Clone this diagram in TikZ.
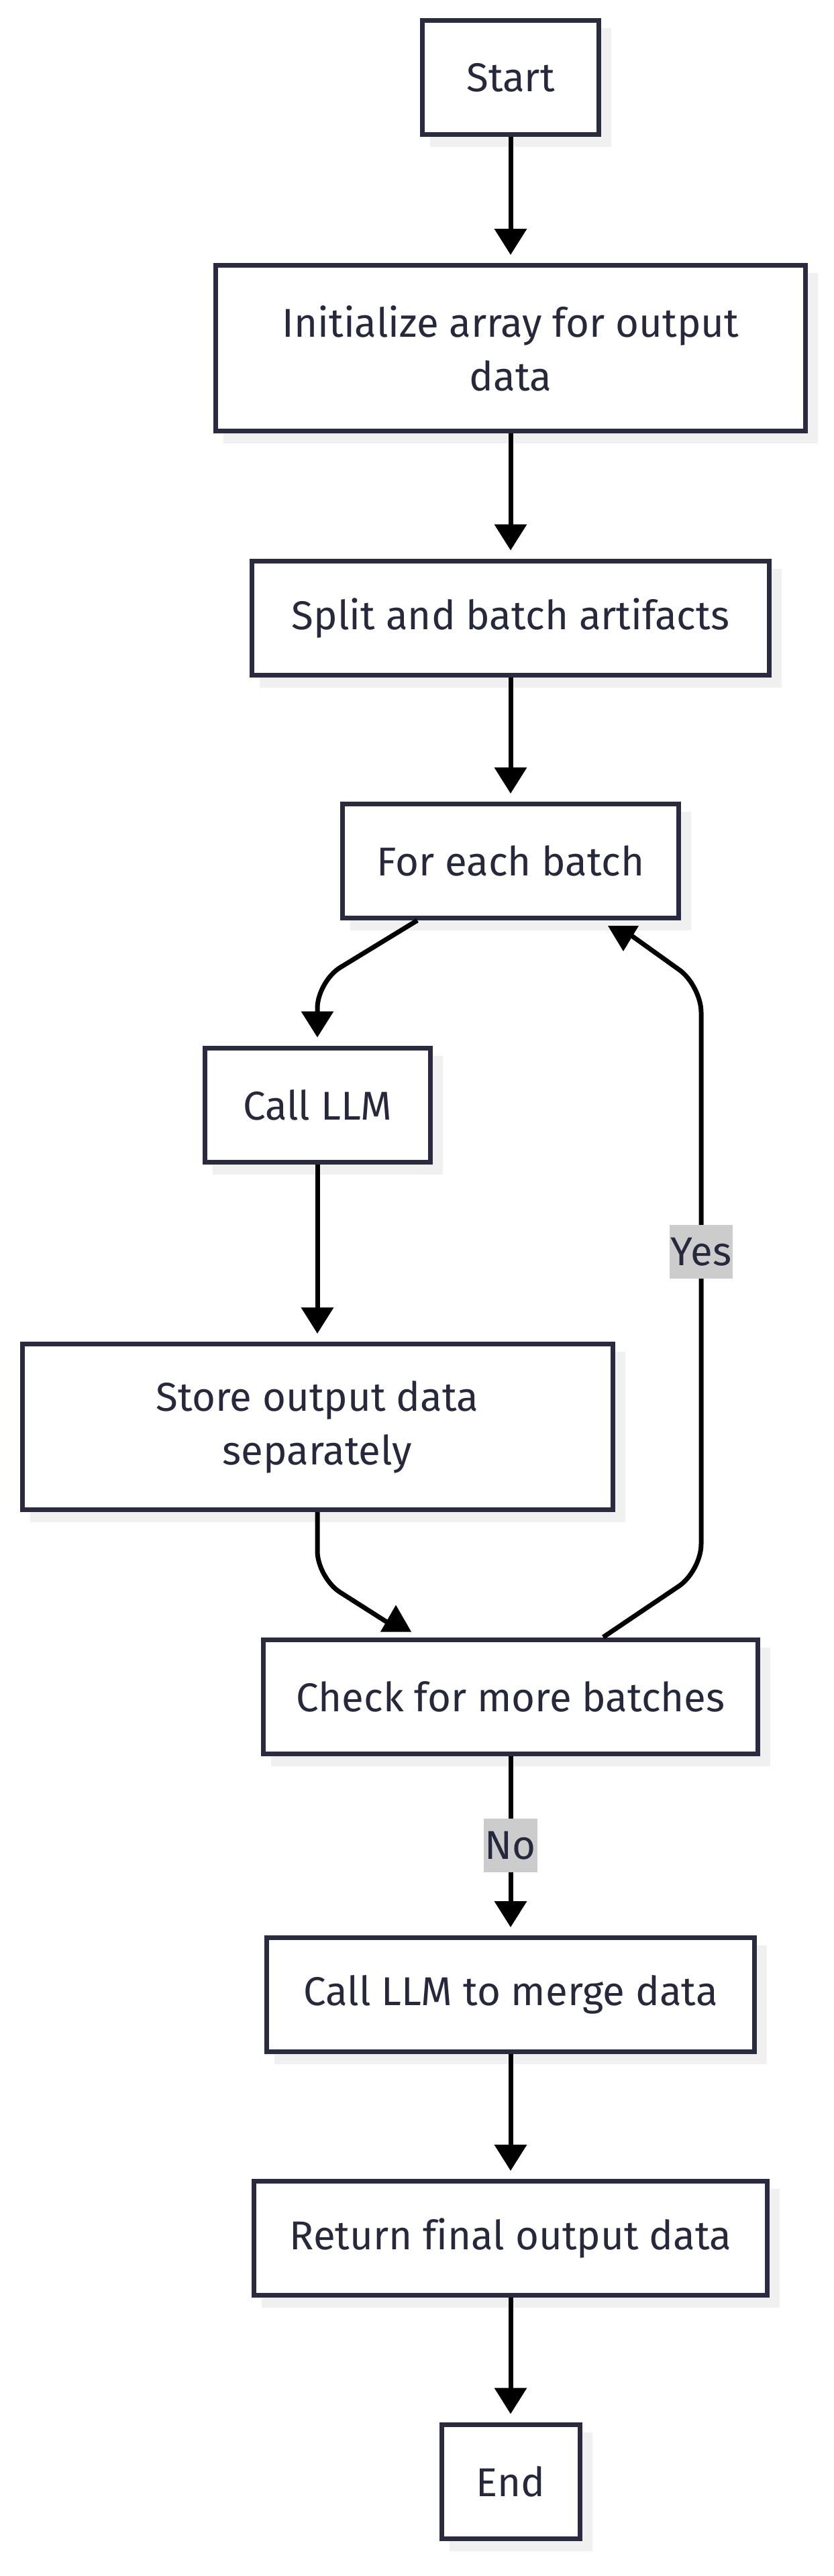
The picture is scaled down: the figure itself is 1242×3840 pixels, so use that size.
\documentclass[tikz,border=0pt]{standalone}
\usepackage{fontspec}
\setmainfont[Ligatures=NoCommon]{Fira Sans}
\usetikzlibrary{arrows.meta,calc,shadows}
\definecolor{bordc}{HTML}{2A2A40}
\definecolor{txtc}{HTML}{28283D}
\definecolor{shadc}{HTML}{F0F0F0}
\definecolor{lblc}{HTML}{CCCCCC}
\begin{document}
\begin{tikzpicture}[x=1pt,y=-1pt,
 box/.style={draw=bordc, line width=7pt, fill=white, text=txtc, align=center, inner sep=0pt,
   font=\fontsize{60}{80}\selectfont,
   general shadow={fill=shadc, draw=shadc, line width=7pt, shadow xshift=15pt, shadow yshift=-15pt}},
 conn/.style={draw=black, line width=7pt, rounded corners=40pt},
 arr/.style={-{Triangle[length=39pt,width=47pt]}, shorten >=12pt},
 lbl/.style={fill=lblc, text=txtc, font=\fontsize{60}{80}\selectfont, inner xsep=2pt, inner ysep=0pt, minimum height=80pt, rounded corners=0pt}
]
\fill[white] (0,0) rectangle (1242,3840);
\useasboundingbox (0,0) rectangle (1242,3840);

\node[box, minimum width=263pt, minimum height=170pt] (start) at (761,115.5) {Start};
\node[box, minimum width=879pt, minimum height=247pt] (init) at (761,519) {Initialize array for output\\data};
\node[box, minimum width=771pt, minimum height=170pt] (split) at (761,921) {Split and batch artifacts};
\node[box, minimum width=501pt, minimum height=170pt] (foreach) at (761,1283.5) {For each batch};
\node[box, minimum width=336pt, minimum height=170pt] (callllm) at (473,1647) {Call LLM};
\node[box, minimum width=880pt, minimum height=247pt] (store) at (473,2127) {Store output data\\separately};
\node[box, minimum width=737pt, minimum height=170pt] (check) at (761,2529) {Check for more batches};
\node[box, minimum width=727pt, minimum height=170pt] (merge) at (761,2973.5) {Call LLM to merge data};
\node[box, minimum width=765pt, minimum height=170pt] (ret) at (761,3336.5) {Return final output data};
\node[box, minimum width=206pt, minimum height=170pt] (endn) at (761,3699) {End};

\draw[conn,arr] (start.south) -- (init.north);
\draw[conn,arr] (init.south) -- (split.north);
\draw[conn,arr] (split.south) -- (foreach.north);
\draw[conn,arr] ([xshift=-139pt]foreach.south) -- (473,1463) -- (callllm.north);
\draw[conn,arr] (callllm.south) -- (store.north);

\draw[conn] (store.south) -- (473,2352) -- ([shift={(-171pt,14pt)}]check.north);
\fill[black] ([shift={(-194pt,8pt)}]check.north) -- ([shift={(-148pt,8pt)}]check.north) -- ([shift={(-171pt,48pt)}]check.north) -- cycle;

\draw[conn] ([xshift=138pt]check.north) -- (1045,2342) -- node[lbl,pos=0.545]{Yes} (1045,1469) -- ([shift={(168pt,-14pt)}]foreach.south);
\fill[black] ([shift={(145pt,-8pt)}]foreach.south) -- ([shift={(191pt,-8pt)}]foreach.south) -- ([shift={(168pt,-46pt)}]foreach.south) -- cycle;

\draw[conn,arr] (check.south) -- node[lbl]{No} (merge.north);
\draw[conn,arr] (merge.south) -- (ret.north);
\draw[conn,arr] (ret.south) -- (endn.north);
\end{tikzpicture}
\end{document}
